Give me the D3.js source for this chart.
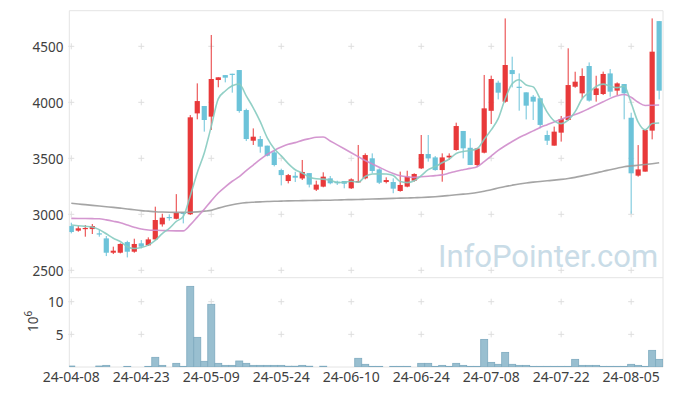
<!DOCTYPE html>
<html>
<head>
<meta charset="utf-8">
<script src="https://cdn.jsdelivr.net/npm/d3@7"></script>
<style>
body { margin: 0; background: #fff; }
text { font-family: "Noto Sans", sans-serif; fill: #404040; }
</style>
</head>
<body>
<svg id="chart" width="673" height="396"></svg>
<script>
const dates = ["04-08","04-09","04-11","04-12","04-15","04-16","04-17","04-18","04-19","04-22",
  "04-23","04-24","04-25","04-26","04-29","04-30","05-02","05-03","05-07","05-08",
  "05-09","05-10","05-13","05-14","05-16","05-17","05-20","05-21","05-22","05-23",
  "05-24","05-27","05-28","05-29","05-30","05-31","06-03","06-04","06-05","06-07",
  "06-10","06-11","06-12","06-13","06-14","06-17","06-18","06-19","06-20","06-21",
  "06-24","06-25","06-26","06-27","06-28","07-01","07-02","07-03","07-04","07-05",
  "07-08","07-09","07-10","07-11","07-12","07-15","07-16","07-17","07-18","07-19",
  "07-22","07-23","07-24","07-25","07-26","07-29","07-30","07-31","08-01","08-02",
  "08-05","08-06","08-07","08-08","08-09"].map(d => "24-" + d);

const open = [2895,2854,2868,2868,2830,2785,2657,2657,2752,2666,2741,2723,2776,2910,2976,2960,3015,3000,3901,3967,
  3872,4199,4243,4255,4288,3931,3657,3672,3613,3553,3395,3297,3344,3320,3368,3220,3247,3321,3291,3297,
  3232,3285,3321,3500,3401,3288,3288,3208,3247,3300,3410,3538,3508,3395,3508,3574,3744,3594,3440,3550,
  3924,4175,4005,4288,4139,4089,4050,4036,3708,3613,3729,3842,4139,4080,4324,4065,4074,4258,4104,4163,
  3862,3345,3381,3747,4725];
const high = [2925,2895,2904,2913,2860,2806,2711,2741,2764,2782,2770,2794,3068,3005,3000,3180,3018,3886,4169,3967,
  4601,4223,4243,4255,4288,3943,3767,3699,3613,3568,3407,3360,3380,3485,3368,3300,3375,3342,3300,3297,
  3321,3619,3544,3544,3410,3330,3321,3381,3389,3366,3708,3708,3520,3544,3544,3818,3744,3678,3594,4244,
  4238,4193,4749,4407,4258,4089,4065,4036,3747,3783,3878,4482,4273,4303,4356,4237,4274,4297,4178,4163,
  3907,3618,3753,4749,4725];
const low = [2830,2845,2800,2824,2800,2627,2645,2651,2615,2657,2696,2717,2770,2890,2943,2955,2919,2994,3848,3738,
  3753,4134,4178,4086,3907,3654,3619,3550,3517,3428,3258,3276,3288,3306,3240,3208,3241,3268,3262,3232,
  3226,3280,3312,3366,3270,3276,3188,3202,3241,3291,3404,3470,3389,3291,3485,3568,3499,3440,3425,3544,
  3806,4026,3996,4133,3925,3847,3842,3768,3619,3613,3649,3836,4130,4035,4006,4006,4065,4050,4065,3848,
  3005,3336,3381,3669,4026];
const close = [2842,2875,2878,2895,2824,2657,2675,2735,2666,2735,2711,2776,2949,2970,2970,3012,3003,3866,4011,3842,
  4208,4223,4220,4246,3922,3672,3693,3604,3523,3440,3350,3350,3327,3378,3265,3265,3336,3277,3277,3273,
  3312,3297,3529,3387,3282,3306,3229,3262,3336,3360,3538,3499,3395,3508,3523,3788,3589,3440,3588,3946,
  4208,4086,4333,4252,4130,3970,4006,3798,3657,3738,3851,4154,4184,4235,4015,4124,4253,4095,4169,4080,
  3366,3401,3753,4452,4104];

// volume in millions
const volume = [0.15,0.02,0.02,0.02,0.15,0.25,0.02,0.02,0.1,0.02,0.02,0.1,1.48,0.25,0.05,0.56,0.1,12.35,4.54,0.87,
  9.6,0.56,0.25,0.25,0.92,0.56,0.25,0.25,0.25,0.25,0.25,0.12,0.12,0.25,0.12,0.02,0.12,0.02,0.02,0.02,
  0.02,1.33,0.41,0.1,0.1,0.02,0.1,0.1,0.1,0.02,0.56,0.56,0.1,0.25,0.1,0.56,0.25,0.1,0.1,4.23,
  0.71,0.41,2.24,0.41,0.25,0.25,0.1,0.1,0.1,0.1,0.1,0.1,1.17,0.25,0.25,0.25,0.1,0.1,0.1,0.1,
  0.41,0.25,0.1,2.55,1.17];

const ma5 = [2904,2898,2892,2886,2863,2826,2786,2757,2711,2694,2704,2725,2767,2828,2875,2936,2981,3164,3372,3547,
  3785,4030,4101,4148,4164,4057,3951,3827,3683,3586,3522,3453,3398,3369,3334,3317,3314,3304,3284,3286,
  3295,3287,3338,3360,3361,3360,3347,3293,3283,3299,3345,3399,3426,3460,3493,3543,3561,3570,3586,3670,
  3754,3854,4032,4165,4202,4154,4138,4031,3912,3834,3810,3840,3917,4032,4088,4142,4162,4144,4131,4144,
  3993,3822,3754,3810,3815];
const ma20 = [2964,2963,2962,2961,2960,2950,2938,2925,2905,2885,2868,2860,2857,2855,2853,2852,2852,2905,2975,3045,
  3120,3190,3245,3295,3336,3390,3440,3490,3535,3570,3600,3625,3640,3660,3675,3688,3690,3655,3620,3585,
  3550,3515,3480,3450,3420,3390,3365,3345,3335,3330,3335,3340,3345,3352,3368,3385,3398,3410,3425,3470,
  3520,3570,3612,3650,3685,3715,3745,3775,3800,3825,3848,3870,3890,3915,3945,3975,4005,4035,4058,4070,
  4045,4000,3972,3974,3976];
const ma60 = [3098,3092,3086,3080,3074,3068,3062,3055,3048,3040,3033,3028,3023,3020,3018,3017,3017,3018,3022,3028,
  3035,3055,3072,3086,3097,3104,3108,3111,3114,3116,3118,3120,3121,3122,3123,3124,3125,3126,3128,3130,
  3131,3132,3134,3136,3138,3140,3142,3144,3146,3148,3150,3153,3157,3162,3168,3174,3180,3186,3194,3206,
  3220,3234,3248,3260,3271,3280,3287,3293,3299,3305,3312,3320,3330,3343,3356,3370,3385,3398,3412,3425,
  3432,3438,3445,3452,3460];

const priceTicks = [2500, 3000, 3500, 4000, 4500];
const volTicks = [5, 10];
const dateTicks = [0, 10, 20, 30, 40, 50, 60, 70, 80];

const plotLeft = 69.3, plotRight = 663, plotTop = 10.7, plotMid = 277.7, plotBottom = 367;
const upColor = "#e8393a", downColor = "#6cc3d9", gridColor = "#dedede", frameColor = "#e4e4e4";

const idx = d3.range(dates.length);
const x = d3.scaleLinear().domain([-0.285, 84.55]).range([plotLeft, plotRight]);
const y = d3.scaleLinear().domain([2500, 4500]).range([270.3, 46.3]);
const yv = d3.scaleLinear().domain([0, 10]).range([plotBottom, 301.7]);

const svg = d3.select("#chart");
svg.append("rect").attr("width", 673).attr("height", 396).attr("fill", "#fff");

const defs = svg.append("defs");
defs.append("clipPath").attr("id", "clipTop").append("rect")
  .attr("x", plotLeft).attr("y", plotTop).attr("width", plotRight - plotLeft).attr("height", plotMid - plotTop);
defs.append("clipPath").attr("id", "clipBot").append("rect")
  .attr("x", plotLeft).attr("y", plotMid).attr("width", plotRight - plotLeft).attr("height", plotBottom - plotMid);

// grid crosses
function crosses(g, ys) {
  const pts = [];
  dateTicks.forEach(i => ys.forEach(v => pts.push([x(i), v])));
  g.selectAll("path.cross").data(pts).join("path")
    .attr("class", "cross")
    .attr("d", d => `M${d[0]-3},${d[1]}h6M${d[0]},${d[1]-3}v6`)
    .attr("stroke", gridColor).attr("stroke-width", 1).attr("fill", "none");
}
crosses(svg.append("g"), priceTicks.map(y));
crosses(svg.append("g"), volTicks.map(yv));

// watermark
svg.append("text")
  .attr("x", 438).attr("y", 266.7)
  .style("font-family", "Roboto, sans-serif")
  .style("font-size", "31px").style("fill", "#c9dce7")
  .text("InfoPointer.com");

// frame
svg.append("path")
  .attr("d", `M${plotLeft},${plotBottom}V${plotTop}H${plotRight}V${plotBottom}M${plotLeft},${plotMid}H${plotRight}M${plotLeft},${plotBottom}H${plotRight}`)
  .attr("fill", "none").attr("stroke", frameColor).attr("stroke-width", 1);

// candles
const gc = svg.append("g").attr("clip-path", "url(#clipTop)");
gc.selectAll("line.wick").data(idx).join("line")
  .attr("class", "wick")
  .attr("x1", i => x(i)).attr("x2", i => x(i))
  .attr("y1", i => y(high[i])).attr("y2", i => y(low[i]))
  .attr("stroke", i => close[i] >= open[i] ? upColor : downColor)
  .attr("stroke-width", 1);
gc.selectAll("rect.body").data(idx).join("rect")
  .attr("class", "body")
  .attr("x", i => x(i) - 2.6).attr("width", 5.2)
  .attr("y", i => y(Math.max(open[i], close[i])))
  .attr("height", i => Math.max(1.2, Math.abs(y(open[i]) - y(close[i]))))
  .attr("fill", i => close[i] >= open[i] ? upColor : downColor);

// moving averages
const line = arr => d3.line().x(i => x(i)).y(i => y(arr[i])).curve(d3.curveMonotoneX)(idx);
[[ma60, "#9b9b9b"], [ma20, "#cf8ccb"], [ma5, "#86cbc0"]].forEach(([arr, c]) => {
  gc.append("path").attr("d", line(arr))
    .attr("fill", "none").attr("stroke", c).attr("stroke-width", 1.6).attr("stroke-opacity", 0.9);
});

// volume
const gv = svg.append("g").attr("clip-path", "url(#clipBot)");
gv.selectAll("rect").data(idx.filter(i => volume[i] > 0.05)).join("rect")
  .attr("x", i => x(i) - 3.5).attr("width", 7)
  .attr("y", i => yv(volume[i])).attr("height", i => plotBottom - yv(volume[i]))
  .attr("fill", "#99bfd0").attr("stroke", "#7eaabf").attr("stroke-width", 0.8);

// axes labels
svg.append("g").selectAll("text").data(priceTicks).join("text")
  .attr("x", 63.5).attr("y", d => y(d) + 5.2)
  .attr("text-anchor", "end").style("font-size", "13.5px")
  .text(d => d);
svg.append("g").selectAll("text").data(volTicks).join("text")
  .attr("x", 63.5).attr("y", d => yv(d) + 5.2)
  .attr("text-anchor", "end").style("font-size", "13.5px")
  .text(d => d);
svg.append("g").selectAll("text").data(dateTicks).join("text")
  .attr("x", i => x(i)).attr("y", 382.3)
  .attr("text-anchor", "middle").style("font-size", "14px")
  .text(i => dates[i]);

const unit = svg.append("text")
  .attr("transform", "translate(38.3,332) rotate(-90)")
  .style("font-size", "13.5px");
unit.append("tspan").text("10");
unit.append("tspan").attr("dy", -6).style("font-size", "10px").text("6");
</script>
</body>
</html>
